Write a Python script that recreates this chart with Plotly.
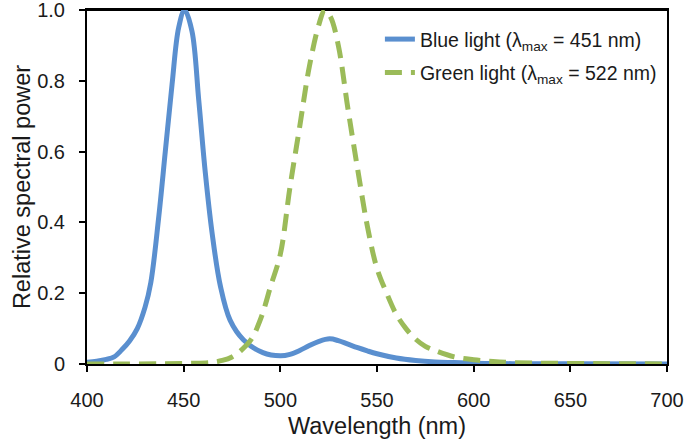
import plotly.graph_objects as go

blue_wl = [400, 405, 410, 414, 418, 422, 426, 430, 433, 437, 440.5, 444, 447.4, 450.5,
           454.3, 457.8, 461.2, 464.7, 469, 474, 481, 491, 500, 505, 510, 515, 520, 525.5,
           530, 535, 540, 545, 550, 560, 570, 580, 590, 600, 620, 650, 700]
blue_pw = [0.005, 0.008, 0.013, 0.02, 0.04, 0.065, 0.10, 0.16, 0.23, 0.41, 0.60, 0.79, 0.95, 1.0,
           0.94, 0.745, 0.54, 0.37, 0.22, 0.124, 0.068, 0.032, 0.023, 0.027, 0.038, 0.052, 0.064, 0.071,
           0.066, 0.056, 0.046, 0.037, 0.029, 0.017, 0.010, 0.006, 0.004, 0.002, 0.001, 0.0005, 0.0]

green_wl = [400, 420, 440, 455, 465, 470, 475, 480, 485, 490, 495, 500, 505, 510, 515, 520, 523,
            526, 530, 535, 540, 545, 550, 555, 560, 565, 570, 575, 580, 590, 600, 610, 620, 640, 670, 700]
green_pw = [0.0, 0.0, 0.001, 0.002, 0.005, 0.01, 0.02, 0.04, 0.07, 0.13, 0.22, 0.31, 0.50, 0.67, 0.84,
            0.96, 1.0, 0.98, 0.90, 0.72, 0.55, 0.39, 0.27, 0.20, 0.14, 0.10, 0.07, 0.05, 0.038, 0.02,
            0.012, 0.007, 0.004, 0.002, 0.001, 0.0]

x_ticks = [400, 450, 500, 550, 600, 650, 700]
y_ticks = [0, 0.2, 0.4, 0.6, 0.8, 1.0]
y_ticktext = ["0", "0.2", "0.4", "0.6", "0.8", "1.0"]

font = "Liberation Sans, Arial, sans-serif"

fig = go.Figure()
fig.add_trace(go.Scatter(
    x=blue_wl, y=blue_pw, mode="lines", line_shape="spline",
    name="Blue light (λ<sub>max</sub> = 451 nm)", legendgroup="b",
    line=dict(color="#5A8FCF", width=5),
))
fig.add_trace(go.Scatter(
    x=green_wl, y=green_pw, mode="lines", line_shape="spline",
    name="Green light (λ<sub>max</sub> = 522 nm)", legendgroup="g",
    line=dict(color="#9BBB59", width=5, dash="17px,9px"),
))

# top border of the plot frame
fig.add_shape(type="line", xref="paper", yref="paper", x0=0, x1=1, y0=1, y1=1,
              line=dict(color="black", width=2), layer="below")

fig.update_layout(
    width=685, height=443,
    margin=dict(l=87, r=18, t=10, b=79, autoexpand=False),
    paper_bgcolor="white", plot_bgcolor="white",
    font=dict(family=font, size=20, color="#1a1a1a"),
    legend=dict(x=0.505, y=0.972, xanchor="left", yanchor="top",
                bgcolor="rgba(0,0,0,0)", tracegroupgap=5,
                traceorder="grouped", font=dict(size=19.5)),
    xaxis=dict(range=[400, 700], tickvals=x_ticks, ticks="outside", ticklen=6,
               tickwidth=2, tickcolor="black", showline=True, linecolor="black",
               linewidth=2, mirror=True, showgrid=False, zeroline=False, automargin=False,
               ticklabelstandoff=11, ticklabeloverflow="allow",
               title=dict(text="Wavelength (nm)", font=dict(size=23.5), standoff=8),
               tickfont=dict(size=20)),
    yaxis=dict(range=[0, 1.0], tickvals=y_ticks, ticktext=y_ticktext, ticks="outside",
               ticklen=6, tickwidth=2, tickcolor="black", showline=True, linecolor="black",
               linewidth=2, mirror=True, showgrid=False, zeroline=False, automargin=False,
               ticklabelstandoff=10, ticklabeloverflow="allow",
               title=dict(text="Relative spectral power", font=dict(size=23.5), standoff=0),
               tickfont=dict(size=20)),
)

fig.write_html("out.html", config={"displayModeBar": False},
               post_script="document.body.style.margin='0';document.body.style.overflow='hidden';")
